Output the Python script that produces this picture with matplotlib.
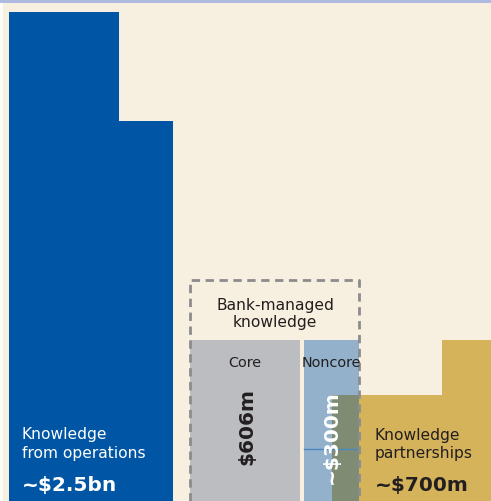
import matplotlib.pyplot as plt
from matplotlib.patches import Rectangle

# --- data -------------------------------------------------------------
groups = ["Knowledge\nfrom operations", "Core", "Noncore", "Knowledge\npartnerships"]
value_labels = ["~$2.5bn", "$606m", "~$300m", "~$700m"]
values_m = [2500, 606, 300, 700]
box_title = "Bank-managed\nknowledge"

# step blocks in canvas units (left, width, height) - area ~ value
ops_steps = [(9, 110, 489), (119, 54, 380)]
core_steps = [(190, 110, 161)]
noncore_steps = [(304, 55, 161)]
partner_steps = [(359, 83, 106), (442, 49, 161)]
overlap_steps = [(332, 27, 106)]

W, H = 491, 502
cream = "#f7efdf"
blue = "#0056a4"
grey = "#bcbdc1"
light_blue = "#93b1cb"
olive = "#7f8c73"
gold = "#d4b35b"
ink = "#231f20"

fig = plt.figure(figsize=(W / 100, H / 100), dpi=100)
fig.patch.set_facecolor(cream)
ax = fig.add_axes([0, 0, 1, 1])
ax.set_xlim(0, W)
ax.set_ylim(0, H)
ax.axis("off")

# top stripe + left edge
ax.add_patch(Rectangle((0, H - 3.5), W, 3.5, color="#aebadf", lw=0, zorder=5))
ax.add_patch(Rectangle((0, 0), 3, H - 3.5, color="#fbfbf8", lw=0))

def draw(steps, color):
    for x, w, h in steps:
        ax.bar(x, h, width=w, align="edge", color=color, lw=0)

draw(ops_steps, blue)
draw(core_steps, grey)
draw(noncore_steps, light_blue)
draw(partner_steps, gold)
draw(overlap_steps, olive)

# thin line inside noncore block
ax.plot([304, 359], [52, 52], color="#4a88c0", lw=1)

# dashed box round bank-managed knowledge
ax.plot([190.5, 190.5, 359.5, 359.5], [0, 221.5, 221.5, 0],
        color="#8c8c8c", lw=2, ls=(0, (3, 2)), solid_capstyle="butt")

# --- text -------------------------------------------------------------
reg = 11.2
small = 10.4
big = 14.5
l1, l2 = groups[0].split("\n")
ax.text(22, H - 439, l1, color="white", fontsize=reg, va="baseline")
ax.text(22, H - 458, l2, color="white", fontsize=reg, va="baseline")
ax.text(22, H - 491, value_labels[0], color="white", fontsize=big,
        fontweight="bold", va="baseline")

p1, p2 = groups[3].split("\n")
ax.text(375, H - 440, p1, color=ink, fontsize=reg, va="baseline")
ax.text(375, H - 458, p2, color=ink, fontsize=reg, va="baseline")
ax.text(375, H - 491, value_labels[3], color=ink, fontsize=big,
        fontweight="bold", va="baseline")

b1, b2 = box_title.split("\n")
ax.text(275, H - 310, b1, color=ink, fontsize=reg, ha="center", va="baseline")
ax.text(275, H - 327, b2, color=ink, fontsize=reg, ha="center", va="baseline")

ax.text(245, H - 367, groups[1], color=ink, fontsize=small, ha="center", va="baseline")
ax.text(331, H - 367, groups[2], color=ink, fontsize=small, ha="center", va="baseline")

ax.text(246.5, H - 427, value_labels[1], color=ink, fontsize=big, fontweight="bold",
        rotation=90, ha="center", va="center")
ax.text(331.5, H - 437.5, value_labels[2], color="white", fontsize=big, fontweight="bold",
        rotation=90, ha="center", va="center")

fig.savefig("out.png", dpi=100, facecolor=cream)
